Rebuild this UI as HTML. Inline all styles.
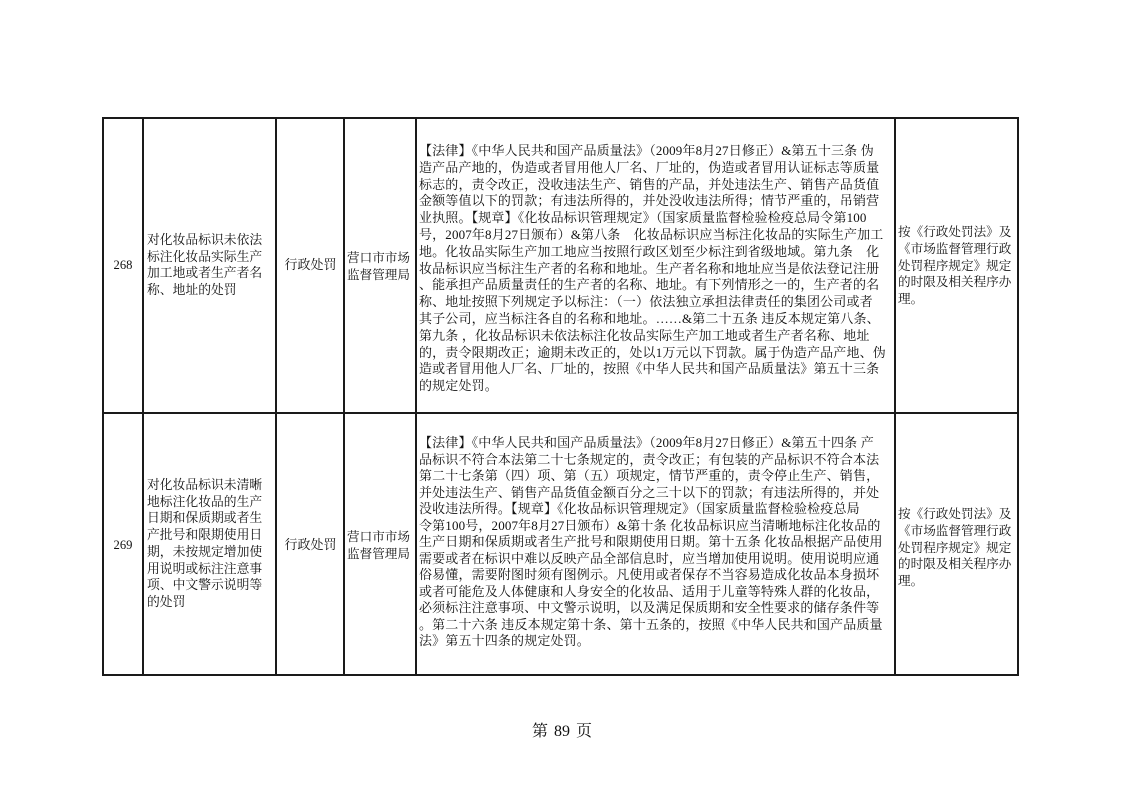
<!DOCTYPE html>
<html><head><meta charset="utf-8"><style>
html,body{margin:0;padding:0;background:#fff;}
body{width:1122px;height:793px;position:relative;overflow:hidden;font-family:"Liberation Serif","Noto Serif CJK SC",serif;color:#111;}
.l{position:absolute;background:#1a1a1a;}
.t{position:absolute;font-size:12.6px;line-height:16.8px;white-space:nowrap;}
.m{font-size:13px;letter-spacing:0.15px;}
.c{text-align:center;}
</style></head><body>
<div class="l" style="left:102px;top:117px;width:917px;height:2px"></div>
<div class="l" style="left:102px;top:412px;width:917px;height:2px"></div>
<div class="l" style="left:102px;top:674px;width:917px;height:2px"></div>
<div class="l" style="left:102px;top:117px;width:2px;height:559px"></div>
<div class="l" style="left:142px;top:117px;width:2px;height:559px"></div>
<div class="l" style="left:275px;top:117px;width:2px;height:559px"></div>
<div class="l" style="left:343px;top:117px;width:2px;height:559px"></div>
<div class="l" style="left:415px;top:117px;width:2px;height:559px"></div>
<div class="l" style="left:894px;top:117px;width:2px;height:559px"></div>
<div class="l" style="left:1017px;top:117px;width:2px;height:559px"></div>

<div class="t c" style="left:103px;width:40px;top:257px">268</div>
<div class="t" style="left:147px;top:232px;line-height:16.7px;font-size:12.8px">对化妆品标识未依法<br>标注化妆品实际生产<br>加工地或者生产者名<br>称、地址的处罚</div>
<div class="t c" style="left:277px;width:67px;top:257px;font-size:13px">行政处罚</div>
<div class="t" style="left:347px;top:250px;font-size:12.6px">营口市市场<br>监督管理局</div>
<div class="t m" style="left:419px;top:143px;line-height:16.8px">【法律】《中华人民共和国产品质量法》（2009年8月27日修正）&amp;第五十三条 伪<br>造产品产地的，伪造或者冒用他人厂名、厂址的，伪造或者冒用认证标志等质量<br>标志的，责令改正，没收违法生产、销售的产品，并处违法生产、销售产品货值<br>金额等值以下的罚款；有违法所得的，并处没收违法所得；情节严重的，吊销营<br>业执照。【规章】《化妆品标识管理规定》（国家质量监督检验检疫总局令第100<br>号，2007年8月27日颁布）&amp;第八条　化妆品标识应当标注化妆品的实际生产加工<br>地。化妆品实际生产加工地应当按照行政区划至少标注到省级地域。第九条　化<br>妆品标识应当标注生产者的名称和地址。生产者名称和地址应当是依法登记注册<br>、能承担产品质量责任的生产者的名称、地址。有下列情形之一的，生产者的名<br>称、地址按照下列规定予以标注：（一）依法独立承担法律责任的集团公司或者<br>其子公司，应当标注各自的名称和地址。……&amp;第二十五条 违反本规定第八条、<br>第九条 ，化妆品标识未依法标注化妆品实际生产加工地或者生产者名称、地址<br>的，责令限期改正；逾期未改正的，处以1万元以下罚款。属于伪造产品产地、伪<br>造或者冒用他人厂名、厂址的，按照《中华人民共和国产品质量法》第五十三条<br>的规定处罚。</div>
<div class="t" style="left:898px;top:224px;line-height:16.8px;font-size:12.6px">按《行政处罚法》及<br>《市场监督管理行政<br>处罚程序规定》规定<br>的时限及相关程序办<br>理。</div>

<div class="t c" style="left:103px;width:40px;top:537px">269</div>
<div class="t" style="left:147px;top:477px;line-height:16.7px;font-size:12.8px">对化妆品标识未清晰<br>地标注化妆品的生产<br>日期和保质期或者生<br>产批号和限期使用日<br>期，未按规定增加使<br>用说明或标注注意事<br>项、中文警示说明等<br>的处罚</div>
<div class="t c" style="left:277px;width:67px;top:537px;font-size:13px">行政处罚</div>
<div class="t" style="left:347px;top:529px;font-size:12.6px">营口市市场<br>监督管理局</div>
<div class="t m" style="left:419px;top:435px;line-height:16.5px">【法律】《中华人民共和国产品质量法》（2009年8月27日修正）&amp;第五十四条 产<br>品标识不符合本法第二十七条规定的，责令改正；有包装的产品标识不符合本法<br>第二十七条第（四）项、第（五）项规定，情节严重的，责令停止生产、销售，<br>并处违法生产、销售产品货值金额百分之三十以下的罚款；有违法所得的，并处<br>没收违法所得。【规章】《化妆品标识管理规定》（国家质量监督检验检疫总局<br>令第100号，2007年8月27日颁布）&amp;第十条 化妆品标识应当清晰地标注化妆品的<br>生产日期和保质期或者生产批号和限期使用日期。第十五条 化妆品根据产品使用<br>需要或者在标识中难以反映产品全部信息时，应当增加使用说明。使用说明应通<br>俗易懂，需要附图时须有图例示。凡使用或者保存不当容易造成化妆品本身损坏<br>或者可能危及人体健康和人身安全的化妆品、适用于儿童等特殊人群的化妆品，<br>必须标注注意事项、中文警示说明，以及满足保质期和安全性要求的储存条件等<br>。第二十六条 违反本规定第十条、第十五条的，按照《中华人民共和国产品质量<br>法》第五十四条的规定处罚。</div>
<div class="t" style="left:898px;top:506px;line-height:16.8px;font-size:12.6px">按《行政处罚法》及<br>《市场监督管理行政<br>处罚程序规定》规定<br>的时限及相关程序办<br>理。</div>

<div class="t c" style="left:500px;width:124px;top:722px;font-size:16px;line-height:20px;word-spacing:2px">第 89 页</div>
</body></html>
